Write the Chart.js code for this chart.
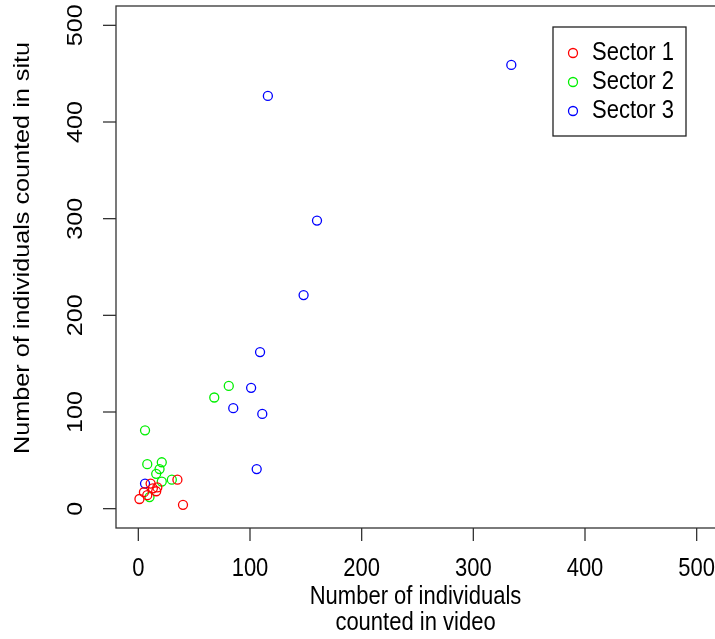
<!DOCTYPE html>
<html>
<head>
<meta charset="utf-8">
<script src="https://cdn.jsdelivr.net/npm/chart.js@4/dist/chart.umd.min.js"></script>
<style>
  html, body { margin: 0; padding: 0; background: #fff; overflow: hidden; }
  #wrap { width: 715px; height: 639px; overflow: hidden; }
</style>
</head>
<body>
<div id="wrap"><canvas id="c" width="728" height="639"></canvas></div>
<script>
// Counts per sector: video count (x) vs in-situ count (y)
const sector1X = [1, 5, 8, 11, 13, 16, 17, 35, 40];
const sector1Y = [10, 17, 14, 26, 21, 18, 22, 30, 4];
const sector2X = [81, 68, 6, 8, 21, 19, 16, 30, 21, 10];
const sector2Y = [127, 115, 81, 46, 48, 41, 36, 30, 28, 12];
const sector3X = [334, 116, 160, 148, 109, 101, 85, 111, 106, 6];
const sector3Y = [459, 427, 298, 221, 162, 125, 104, 98, 41, 26];

const seriesNames = ['Sector 1', 'Sector 2', 'Sector 3'];
const seriesColors = ['#ff0000', '#00f000', '#0000ff'];
const xTicks = [0, 100, 200, 300, 400, 500];
const yTicks = [0, 100, 200, 300, 400, 500];
const xTitle = ['Number of individuals', 'counted in video'];
const yTitle = 'Number of individuals counted in situ';

const FONT = '"Liberation Sans", Arial, sans-serif';
const FS = 22;
const TALL = 1.146;   // glyphs are drawn slightly taller than wide

function pts(xs, ys) { return xs.map((x, i) => ({ x: x, y: ys[i] })); }

function label(ctx, str, x, y, vertical) {
  ctx.save();
  ctx.translate(x, y);
  if (vertical) {
    ctx.rotate(-Math.PI / 2);
    ctx.scale(TALL, 1);
  } else {
    ctx.scale(1, TALL);
  }
  ctx.fillText(str, 0, 0);
  ctx.restore();
}

// R-style frame, axes, labels and legend
const basePlot = {
  id: 'basePlot',
  afterDraw(chart) {
    const ctx = chart.ctx;
    const a = chart.chartArea;
    const xs = chart.scales.x, ys = chart.scales.y;
    ctx.save();
    ctx.strokeStyle = '#333';
    ctx.lineWidth = 1.3;
    ctx.strokeRect(a.left, a.top, a.right - a.left, a.bottom - a.top);

    ctx.fillStyle = '#000';
    ctx.font = FS + 'px ' + FONT;
    ctx.textAlign = 'center';
    ctx.textBaseline = 'middle';
    // x axis ticks + labels
    xTicks.forEach(v => {
      const px = xs.getPixelForValue(v);
      ctx.beginPath();
      ctx.moveTo(px, a.bottom);
      ctx.lineTo(px, a.bottom + 13);
      ctx.stroke();
      label(ctx, String(v), px, 569, false);
    });
    // y axis ticks + labels parallel to the axis
    yTicks.forEach(v => {
      const py = ys.getPixelForValue(v);
      ctx.beginPath();
      ctx.moveTo(a.left, py);
      ctx.lineTo(a.left - 13, py);
      ctx.stroke();
      label(ctx, String(v), 76, py, true);
    });
    // axis titles
    const midX = (xs.getPixelForValue(0) + xs.getPixelForValue(500)) / 2 - 2;
    label(ctx, xTitle[0], midX, 597, false);
    label(ctx, xTitle[1], midX, 623, false);
    label(ctx, yTitle, 23, 248, true);

    // legend
    const lx = 553, ly = 27, lw = 133, lh = 109;
    ctx.fillStyle = '#fff';
    ctx.fillRect(lx, ly, lw, lh);
    ctx.strokeStyle = '#222';
    ctx.lineWidth = 1.3;
    ctx.strokeRect(lx, ly, lw, lh);
    ctx.textAlign = 'left';
    seriesNames.forEach((name, i) => {
      const cy = 53 + i * 29;
      ctx.strokeStyle = seriesColors[i];
      ctx.lineWidth = 1.3;
      ctx.beginPath();
      ctx.arc(573, cy, 4.5, 0, Math.PI * 2);
      ctx.stroke();
      ctx.fillStyle = '#000';
      label(ctx, name, 592, cy, false);
    });
    ctx.restore();
  }
};

const datasets = [
  pts(sector1X, sector1Y),
  pts(sector2X, sector2Y),
  pts(sector3X, sector3Y)
].map((d, i) => ({
  label: seriesNames[i],
  data: d,
  showLine: false,
  pointStyle: 'circle',
  pointRadius: 4.5,
  pointHoverRadius: 4.5,
  pointBorderWidth: 1.3,
  pointBackgroundColor: 'rgba(0,0,0,0)',
  pointBorderColor: seriesColors[i],
  borderColor: seriesColors[i],
  backgroundColor: 'rgba(0,0,0,0)'
}));

new Chart(document.getElementById('c'), {
  type: 'scatter',
  data: { datasets: datasets },
  options: {
    responsive: false,
    animation: false,
    events: [],
    layout: { padding: { left: 116, top: 6, right: 9, bottom: 111 } },
    plugins: { legend: { display: false }, tooltip: { enabled: false } },
    scales: {
      x: { type: 'linear', min: -20, max: 520, display: false },
      y: { type: 'linear', min: -20, max: 520, display: false }
    }
  },
  plugins: [basePlot]
});
</script>
</body>
</html>
